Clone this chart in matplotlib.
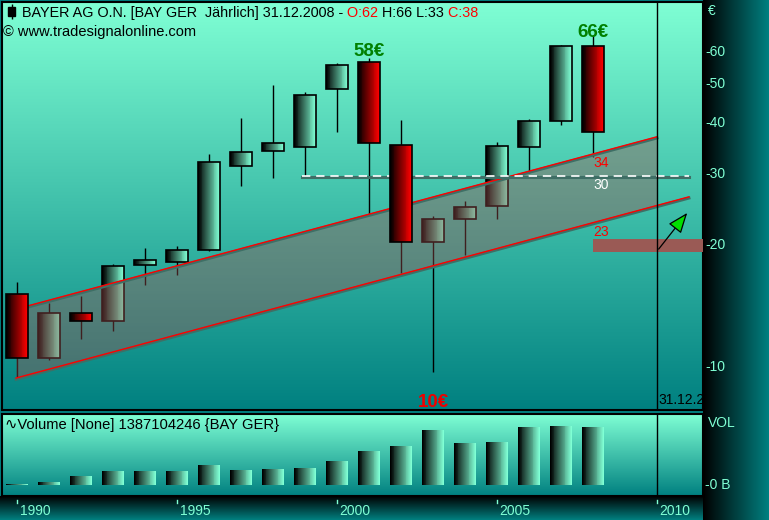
import numpy as np
import matplotlib
matplotlib.use('Agg')
import matplotlib.pyplot as plt
from matplotlib.colors import LinearSegmentedColormap
from matplotlib.transforms import offset_copy

plt.rcParams['font.family'] = ['Liberation Sans', 'DejaVu Sans']

years = list(range(1990, 2009))
opens = [15.1, 10.5, 13.6, 13.0, 17.9, 18.2, 19.4, 31.4, 34.2, 35.0, 48.6, 56.6, 35.3, 20.4, 23.2, 24.9, 35.0, 40.4, 62]
highs = [16.2, 14.4, 15.0, 18.0, 19.7, 19.9, 33.6, 41.2, 49.7, 47.6, 56.4, 58.0, 40.7, 23.6, 25.7, 35.9, 40.9, 62.5, 66]
lows = [9.45, 10.4, 11.7, 12.3, 15.9, 16.9, 19.3, 27.9, 29.2, 29.6, 38.1, 23.7, 17.1, 9.74, 18.9, 23.2, 30.2, 39.6, 33]
closes = [10.5, 13.6, 13.0, 17.8, 18.4, 19.45, 32.1, 33.9, 35.7, 46.9, 55.7, 35.7, 20.3, 23.2, 24.8, 35.1, 40.4, 62.0, 38]
volumes = [0.024, 0.072, 0.215, 0.335, 0.335, 0.335, 0.478, 0.359, 0.383, 0.407, 0.574, 0.813,
           0.933, 1.316, 1.005, 1.029, 1.38, 1.41, 1.387]  # billions

# trend channel (log-linear), lines drawn to these end points
chan_x = [1989.97, 2010.0]
chan_upper = [13.9, 37.0]
lower_x = [1989.97, 2011.0]
lower_y = [9.39, 26.3]
level_x = [1998.9, 2011.0]
level_y = 29.6
band = (2008.0, 19.2, 20.7)

price_ticks = [60, 50, 40, 30, 20, 10]
year_ticks = [1990, 1995, 2000, 2005, 2010]

W, H = 769, 520
AQUA = '#7fffd4'
TEAL = '#008080'

fig = plt.figure(figsize=(W / 100, H / 100), dpi=100, facecolor=TEAL)

# background chrome in pixel coordinates
bg = fig.add_axes([0, 0, 1, 1], zorder=-1)
bg.set_xlim(0, W)
bg.set_ylim(H, 0)
bg.axis('off')


def grad(a, x0, x1, y0, y1, c0, c1, vertical=True, z=0):
    cm = LinearSegmentedColormap.from_list('g', [c0, c1])
    g = np.linspace(0, 1, 256)
    arr = g[:, None] if vertical else g[None, :]
    a.imshow(arr, cmap=cm, extent=(x0, x1, y1, y0), aspect='auto', origin='upper',
             interpolation='bilinear', zorder=z)


grad(bg, 2, 703, 2, 410, AQUA, TEAL)
grad(bg, 2, 703, 414, 496, AQUA, TEAL)
grad(bg, 0, W, 496, H, '#000000', TEAL)
grad(bg, 703, W, 0, H, '#000000', TEAL, vertical=False, z=1)

ax = fig.add_axes([2 / W, 1 - 410 / H, 701 / W, 408 / H], facecolor='none')
vax = fig.add_axes([2 / W, 1 - 496 / H, 701 / W, 82 / H], facecolor='none')
for a in (ax, vax):
    a.set_xticks([])
    a.set_yticks([])
    for s in a.spines.values():
        s.set_color('black')
        s.set_linewidth(1.5)

ax.set_yscale('log')
ax.minorticks_off()
ax.set_yticks([])

w = 0.69
n = 24
up_cm = LinearSegmentedColormap.from_list('up', ['#000000', AQUA])
dn_cm = LinearSegmentedColormap.from_list('dn', ['#000000', '#ff0000'])


def gradient_bars(a, xs, bottoms, tops, cm, z):
    xs = np.asarray(xs, float)
    bottoms = np.asarray(bottoms, float)
    tops = np.asarray(tops, float)
    for k in range(n):
        a.bar(xs - w / 2 + (k + 0.5) * w / n, tops - bottoms, width=w / n * 1.15, bottom=bottoms,
              color=cm(k / (n - 1)), linewidth=0, zorder=z)


# wicks
ax.vlines(years, lows, highs, color='black', lw=1, zorder=2)

up = [i for i in range(len(years)) if closes[i] >= opens[i]]
dn = [i for i in range(len(years)) if closes[i] < opens[i]]

gradient_bars(ax, [years[i] for i in up], [opens[i] for i in up], [closes[i] for i in up], up_cm, 2)
gradient_bars(ax, [years[i] for i in dn], [closes[i] for i in dn], [opens[i] for i in dn], dn_cm, 5)
for i in range(len(years)):
    lo, hi = sorted([opens[i], closes[i]])
    ax.add_patch(plt.Rectangle((years[i] - w / 2, lo), w, hi - lo, fill=False, ec='black', lw=1.2,
                               zorder=2 if i in up else 5))

# channel
slope = np.log10(chan_upper[1] / chan_upper[0]) / (chan_x[1] - chan_x[0])
cx = np.linspace(chan_x[0], chan_x[1], 50)
cu = chan_upper[0] * 10 ** (slope * (cx - chan_x[0]))
cl = lower_y[0] * 10 ** (slope * (cx - lower_x[0]))
ax.fill_between(cx, cl, cu, color='#a05050', alpha=0.4, lw=0, zorder=3)

shadow = offset_copy(ax.transData, fig=fig, x=0, y=-1.2, units='dots')
ax.plot(cx, cu, color='#3f6f66', lw=2.2, transform=shadow, zorder=4)
ax.plot(cx, cu, color='#ff0000', lw=1, zorder=4)
ax.plot(lower_x, lower_y, color='#3f6f66', lw=2.2, transform=shadow, zorder=4)
ax.plot(lower_x, lower_y, color='#ff0000', lw=1, zorder=4)

ax.plot(level_x, [level_y, level_y], color='#3f6f66', lw=2.2, transform=shadow, zorder=4)
ax.plot(level_x, [level_y, level_y], color='white', lw=1.2, ls=(0, (5, 3.5)), zorder=4)

ax.add_patch(plt.Rectangle((band[0], band[1]), 5, band[2] - band[1], color='#9a5a55', lw=0, zorder=4))

ax.axvline(2010, color='black', lw=1, zorder=6)
vax.axvline(2010, color='black', lw=1, zorder=6)

ax.annotate('', xy=(2011.0, 24.3), xytext=(2010.0, 19.3),
            arrowprops=dict(arrowstyle='-|>,head_length=0.9,head_width=0.35', fc='#00e000', ec='black',
                            lw=0.9, mutation_scale=14), zorder=7)

ax.text(2008.0, 31.1, '34', color='#ff0000', fontsize=10, zorder=6)
ax.text(2008.0, 27.5, '30', color='white', fontsize=10, zorder=6)
ax.text(2008.0, 21.1, '23', color='#ff0000', fontsize=10, zorder=6)

ax.text(2001, 58.6, '58€', color='#008000', fontsize=13.5, fontweight='bold', ha='center', zorder=6)
ax.text(2008, 65.4, '66€', color='#008000', fontsize=13.5, fontweight='bold', ha='center', zorder=6)
ax.text(2003, 7.95, '10€', color='#ee0000', fontsize=13.5, fontweight='bold', ha='center', zorder=6)

ax.text(2010.05, 8.29, '31.12.2008', color='black', fontsize=10, va='center', clip_on=True, zorder=6)

ax.set_xlim(1989.53, 2011.44)
ax.set_ylim(7.83, 79.6)

# volume
gradient_bars(vax, years, [0] * len(years), volumes, up_cm, 2)
vax.set_xlim(1989.53, 2011.44)
vax.set_ylim(-0.263, 1.70)
vax.text(0.004, 0.86, '∿Volume [None] 1387104246 {BAY GER}', transform=vax.transAxes, fontsize=10.6,
         va='center', color='black')

# right axis labels
yt = ax.get_yaxis_transform()
for p in price_ticks:
    ax.text(1.003, p, '-' + str(p), transform=yt, color=AQUA, fontsize=10, va='center', clip_on=False)
bg.text(708, 11, '€', color=AQUA, fontsize=10, va='center')
bg.text(708, 423, 'VOL', color=AQUA, fontsize=10, va='center')
vax.text(1.003, 0, '-0 B', transform=vax.get_yaxis_transform(), color=AQUA, fontsize=10, va='center',
         clip_on=False)

# bottom year labels
xt = vax.get_xaxis_transform()
for yr in year_ticks:
    vax.plot([yr, yr], [-0.049, -0.085], color=AQUA, lw=1, transform=xt, clip_on=False)
    vax.text(yr + 0.08, -0.18, str(yr), transform=xt, color=AQUA, fontsize=10, va='center', clip_on=False)

# header
bg.vlines(11.5, 4, 19, color='black', lw=1)
bg.add_patch(plt.Rectangle((8, 6.7), 7, 9, color='black'))

renderer = fig.canvas.get_renderer()
parts = [('BAYER AG O.N. [BAY GER  Jährlich] 31.12.2008 -', 'black'), (' O:62', '#ff0000'),
         (' H:66 L:33', 'black'), (' C:38', '#ff0000')]
x = 22
for s, c in parts:
    t = bg.text(x, 17.3, s, color=c, fontsize=10.4, va='baseline')
    bb = t.get_window_extent(renderer=renderer)
    x = bg.transData.inverted().transform((bb.x1, 0))[0]
bg.text(3, 36, '© www.tradesignalonline.com', color='black', fontsize=10.5, va='baseline')

fig.savefig('out.png', dpi=100, facecolor=TEAL)
